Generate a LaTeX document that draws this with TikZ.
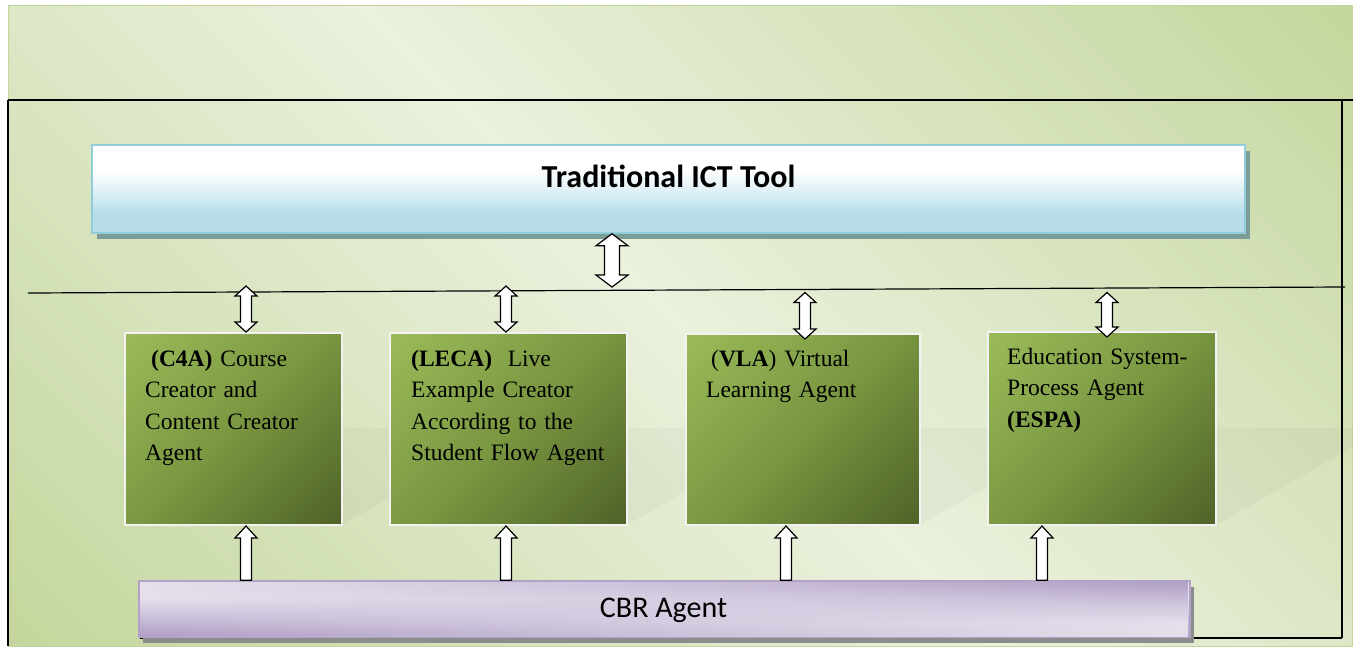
\documentclass[tikz,border=0pt]{standalone}
\usepackage{fontspec}
\setmainfont{Liberation Serif}
\newfontfamily\calibri{Carlito}
\usetikzlibrary{calc,shadows,fadings}

\definecolor{bgdark}{HTML}{C4D69D}
\definecolor{bglight}{HTML}{EAF1DD}
\definecolor{bgedge}{HTML}{C3D69B}
\definecolor{agdark}{HTML}{4F6228}
\definecolor{agmid}{HTML}{7A9741}
\definecolor{aglight}{HTML}{9BBB59}
\definecolor{ictblue}{HTML}{B7DDE8}
\definecolor{ictmid}{HTML}{D6EDF3}
\definecolor{ictedge}{HTML}{92CDDC}
\definecolor{ictshadow}{HTML}{7C9C9A}
\definecolor{cbrlight}{HTML}{E5E0EC}
\definecolor{cbrmid}{HTML}{CEC5DC}
\definecolor{cbrdark}{HTML}{B3A2C7}
\definecolor{cbrshadow}{HTML}{8C8C8C}

% diagonal backdrop: dark in two opposite corners, light along the other diagonal
\pgfdeclareverticalshading{bgdiag}{100bp}{color(0bp)=(bgdark); color(14.6bp)=(bgdark);
  color(50bp)=(bglight); color(85.4bp)=(bgdark); color(100bp)=(bgdark)}
\pgfdeclareverticalshading{agentgrad}{100bp}{color(0bp)=(agdark); color(14.6bp)=(agdark);
  color(50bp)=(agmid); color(85.4bp)=(aglight); color(100bp)=(aglight)}
\pgfdeclareverticalshading{ictgrad}{100bp}{color(0bp)=(ictblue); color(36bp)=(ictblue);
  color(46bp)=(ictmid); color(61bp)=(white); color(100bp)=(white)}
\pgfdeclareverticalshading{cbrgrad}{100bp}{color(0bp)=(cbrdark); color(28bp)=(cbrdark);
  color(45bp)=(cbrmid); color(60bp)=(cbrlight); color(100bp)=(cbrlight)}
\pgfdeclareverticalshading{cbrgradrev}{100bp}{color(0bp)=(cbrlight); color(38bp)=(cbrlight);
  color(55bp)=(cbrmid); color(72bp)=(cbrdark); color(100bp)=(cbrdark)}
\tikzfading[name=cbrfade, left color=transparent!100, right color=transparent!0]

% hollow block arrow with heads at both ends: #1 lower end, #2 upper end,
% #3 half shaft width, #4 half head width, #5 head length
\newcommand\blockdbl[5]{%
  \draw[blockarrow] let \p1=#1, \p2=#2 in
    (\x1,\y1) -- (\x1-#4,\y1+#5) -- (\x1-#3,\y1+#5) -- (\x1-#3,\y2-#5)
    -- (\x1-#4,\y2-#5) -- (\x1,\y2) -- (\x1+#4,\y2-#5) -- (\x1+#3,\y2-#5)
    -- (\x1+#3,\y1+#5) -- (\x1+#4,\y1+#5) -- cycle;}
% hollow block arrow pointing up from #1 to #2
\newcommand\blockup[5]{%
  \draw[blockarrow] let \p1=#1, \p2=#2 in
    (\x1-#3,\y1) -- (\x1-#3,\y2-#5) -- (\x1-#4,\y2-#5) -- (\x1,\y2)
    -- (\x1+#4,\y2-#5) -- (\x1+#3,\y2-#5) -- (\x1+#3,\y1) -- cycle;}

\begin{document}
\begin{tikzpicture}[x=1pt,y=-1pt,
  frameline/.style={draw=black,line width=1.2pt},
  blockarrow/.style={draw=black,fill=white,line width=1.2pt,line join=miter},
  agentbox/.style={draw=white!95!black,line width=2pt,shade,shading=agentgrad,
    shading angle=45,inner sep=0pt},
  agenttext/.style={anchor=north west,inner sep=0pt,align=left,text width=230pt,
    font=\fontsize{23.5}{31.5}\selectfont},
  ictbox/.style={draw=ictedge,line width=1.5pt,shade,shading=ictgrad,inner sep=0pt,
    drop shadow={shadow xshift=5pt,shadow yshift=-6pt,fill=ictshadow,opacity=1}},
  cbrbox/.style={draw=cbrdark,line width=1.5pt,shade,shading=cbrgrad,inner sep=0pt,
    drop shadow={shadow xshift=4pt,shadow yshift=-6pt,fill=cbrshadow,opacity=1}},
  reflection/.style={fill=black,opacity=0.028}]
\useasboundingbox (0,0) rectangle (1353,646);

% backdrop
\shade[shading=bgdiag,shading angle=-45] (8,5) rectangle (1353,646);
\draw[bgedge,line width=1pt] (8,5) rectangle (1352.5,646);

% faint reflections to the right of the agent boxes
\foreach \xr in {342,627,920,1216}
  \fill[reflection] (\xr,428) -- (\xr+170,428) -- (\xr,525) -- cycle;

% frame and bus line
\draw[frameline] (8,100) -- (1353,100);
\draw[frameline] (8,100) -- (8,646);
\draw[frameline] (1342,100) -- (1342,638);
\draw[frameline] (140,638) -- (1342,638);
\coordinate (busL) at (28,293);
\coordinate (busR) at (1345,287);
\draw[line width=1.2pt] (busL) -- (busR);

% top tool
\node[ictbox,minimum width=1153pt,minimum height=88pt] (ict) at (668.5,189) {};
\node[font=\calibri\bfseries\fontsize{32}{38}\selectfont] (ictlabel) at (668.5,176) {Traditional ICT Tool};

% agent boxes
\node[agentbox,minimum width=217pt,minimum height=192pt] (c4a)  at (233.5,429) {};
\node[agentbox,minimum width=237pt,minimum height=192pt] (leca) at (508.5,429) {};
\node[agentbox,minimum width=234pt,minimum height=191pt] (vla)  at (803,429.5) {};
\node[agentbox,minimum width=228pt,minimum height=193pt] (espa) at (1102,428.5) {};

\node[agenttext] (c4atext) at ([xshift=21pt,yshift=-14pt]c4a.north west)
  {\rule{0pt}{20pt}\hspace{6pt}\textbf{(C4A)} Course\\Creator and\\Content Creator\\Agent};
\node[agenttext] (lecatext) at ([xshift=22pt,yshift=-14pt]leca.north west)
  {\rule{0pt}{20pt}\textbf{(LECA)}\ \ Live\\Example Creator\\According to the\\Student Flow Agent};
\node[agenttext] (vlatext) at ([xshift=21pt,yshift=-13pt]vla.north west)
  {\rule{0pt}{20pt}\hspace{5pt}(\textbf{VLA}) Virtual\\Learning Agent};
\node[agenttext] (espatext) at ([xshift=20pt,yshift=-13pt]espa.north west)
  {\rule{0pt}{20pt}Education System-\\Process Agent\\\textbf{(ESPA)}};

% case based reasoning agent
\node[cbrbox,minimum width=1051pt,minimum height=56pt] (cbr) at (664.5,609) {};
\shade[shading=cbrgradrev,path fading=cbrfade]
  ([shift={(0.75pt,0.75pt)}]cbr.south west) rectangle ([shift={(-0.75pt,-0.75pt)}]cbr.north east);
\node[font=\calibri\fontsize{30}{36}\selectfont] (cbrlabel) at ([xshift=-1pt,yshift=-1pt]cbr.center) {CBR Agent};

% arrow positions
\coordinate (mid) at (612,287);
\coordinate (t1) at (246,286);
\coordinate (t2) at (506,286);
\coordinate (t3) at (805,292.5);
\coordinate (t4) at (1107,292.5);
\coordinate (b1) at (246,0);
\coordinate (b2) at (506,0);
\coordinate (b3) at (786,0);
\coordinate (b4) at (1042,0);

% tool <-> bus
\blockdbl{(mid)}{(mid |- ict.south)}{7.5pt}{16pt}{12pt}
% bus <-> agents
\blockdbl{(t1 |- c4a.north)}{(t1)}{5.5pt}{11pt}{10pt}
\blockdbl{(t2 |- leca.north)}{(t2)}{5.5pt}{11pt}{10pt}
\blockdbl{($(t3 |- vla.north)+(0,6)$)}{(t3)}{5.5pt}{11pt}{10pt}
\blockdbl{($(t4 |- espa.north)+(0,6)$)}{(t4)}{5.5pt}{11pt}{10pt}
% CBR agent -> agents
\blockup{(b1 |- cbr.north)}{(b1 |- c4a.south)}{5.5pt}{11pt}{12pt}
\blockup{(b2 |- cbr.north)}{(b2 |- leca.south)}{5.5pt}{11pt}{12pt}
\blockup{(b3 |- cbr.north)}{(b3 |- vla.south)}{5.5pt}{11pt}{12pt}
\blockup{(b4 |- cbr.north)}{(b4 |- espa.south)}{5.5pt}{11pt}{12pt}
\end{tikzpicture}
\end{document}
